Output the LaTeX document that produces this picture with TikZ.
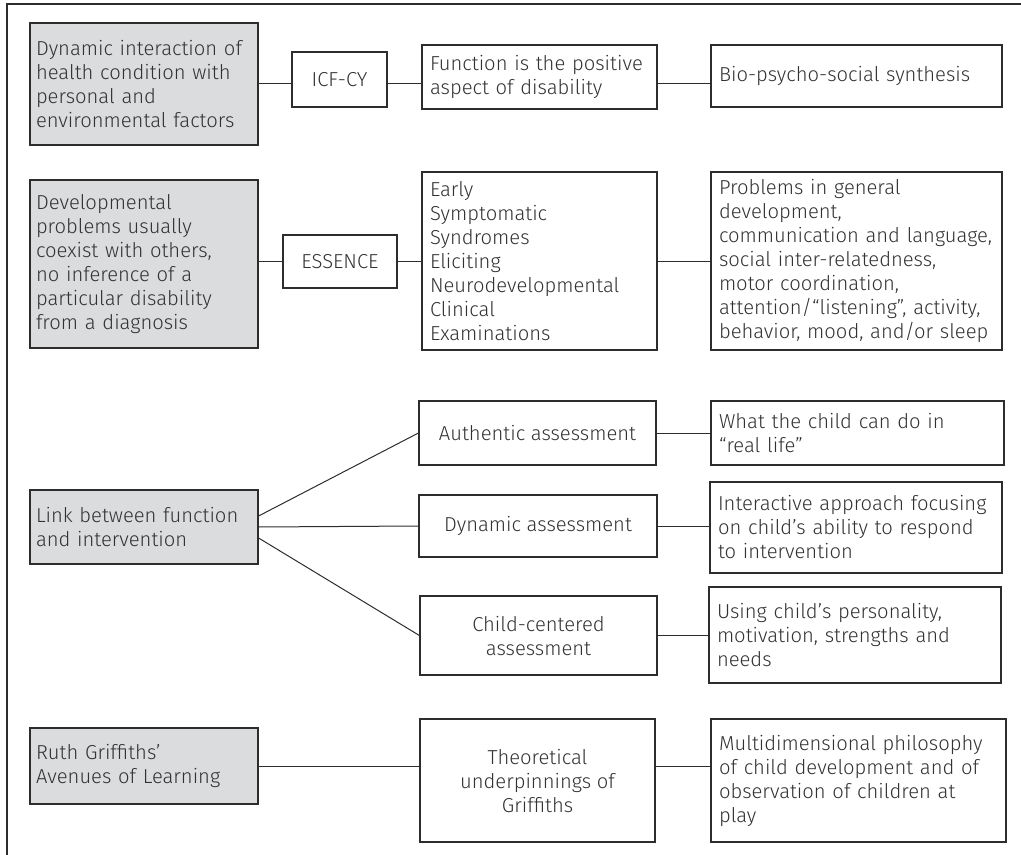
\documentclass[tikz,border=0pt]{standalone}
\usepackage{fontspec}
\setmainfont{Fira Sans Light}
\usepackage{tikz}
\definecolor{grayfill}{RGB}{219,220,222}
\definecolor{linecol}{RGB}{45,45,45}
\definecolor{txtcol}{RGB}{50,50,50}
\tikzset{
  box/.style={draw=linecol, line width=0.6pt, inner xsep=4pt, inner ysep=0pt, text=txtcol,
    font=\fontsize{10.1}{12}\selectfont},
  graybox/.style={box, fill=grayfill, inner xsep=3pt, text width=108pt, align=left},
  txtbox/.style={box, align=left},
  midbox/.style={box, align=center},
  link/.style={draw=linecol, line width=0.5pt}
}
\begin{document}
\begin{tikzpicture}[x=0.5pt,y=-0.5pt]
        \useasboundingbox (0,0) rectangle (1021,855);
        % frame
        \draw[link, line width=0.6pt] (7,855) -- (7,4) -- (1021,4);
        % ICF-CY row
        \node[graybox, minimum height=61pt] (dyn) at (144,84) {Dynamic interaction of\\health condition with\\personal and\\environmental factors};
        \node[midbox, minimum width=47.5pt, minimum height=27.5pt] (icf) at (339.5,79.5) {ICF-CY};
        \node[txtbox, text width=109.5pt, minimum height=32pt] (fnc) at (539.5,77) {Function is the positive\\aspect of disability};
        \node[txtbox, text width=137.5pt, minimum height=31pt] (bio) at (856.5,76) {Bio-psycho-social synthesis};
        \draw[link] (dyn.east) -- (icf.west |- dyn);
        \draw[link] (icf.east |- dyn) -- (fnc.west |- dyn);
        \draw[link] (fnc.east |- dyn) -- (bio.west |- dyn);
        % ESSENCE row
        \node[graybox, minimum height=84pt] (dev) at (144,264) {Developmental\\problems usually\\coexist with others,\\no inference of a\\particular disability\\from a diagnosis};
        \node[midbox, minimum width=57pt, minimum height=26.5pt] (ess) at (340,261.5) {ESSENCE};
        \node[txtbox, text width=109.5pt, minimum height=89pt] (esl) at (539.5,261) {Early\\Symptomatic\\Syndromes\\Eliciting\\Neurodevelopmental\\Clinical\\Examinations};
        \node[txtbox, text width=137.5pt, minimum height=89pt] (prb) at (856.5,261) {Problems in general\\development,\\communication and language,\\social inter-relatedness,\\motor coordination,\\attention/“listening”, activity,\\behavior, mood, and/or sleep};
        \draw[link] (dev.east |- ess) -- (ess.west);
        \draw[link] (ess.east) -- (esl.west |- ess);
        \draw[link] (esl.east |- ess) -- (prb.west |- ess);
        % assessment rows
        \node[graybox, minimum height=37pt] (lnk) at (144,527) {Link between function\\and intervention};
        \node[midbox, minimum width=118.5pt, minimum height=32pt] (aut) at (537.5,433) {Authentic assessment};
        \node[midbox, minimum width=119pt, minimum height=31pt] (dya) at (538,526) {Dynamic assessment};
        \node[midbox, minimum width=118.5pt, minimum height=39.5pt] (chc) at (538.5,635.5) {Child-centered\\assessment};
        \node[txtbox, text width=138.5pt, minimum height=32pt] (wht) at (857.5,433) {What the child can do in\\“real life”};
        \node[txtbox, text width=138pt, minimum height=45.5pt] (iap) at (856,527.5) {Interactive approach focusing\\on child’s ability to respond\\to intervention};
        \node[txtbox, text width=138pt, minimum height=48pt] (usg) at (855,635) {Using child’s personality,\\motivation, strengths and\\needs};
        \draw[link] ([yshift=5.5pt]lnk.east) -- (aut.west);
        \draw[link] (lnk.east) -- (dya.west);
        \draw[link] ([yshift=-5.5pt]lnk.east) -- (chc.west);
        \draw[link] (aut.east) -- (wht.west |- aut);
        \draw[link] (dya.east) -- (iap.west |- dya);
        \draw[link] (chc.east) -- (usg.west |- chc);
        % Griffiths row
        \node[graybox, minimum height=38pt] (rgf) at (144,766) {Ruth Griffiths’\\Avenues of Learning};
        \node[midbox, minimum width=117.5pt, minimum height=61.5pt] (thp) at (537.5,780.5) {Theoretical\\underpinnings of\\Griffiths};
        \node[txtbox, text width=139.5pt, minimum height=61.5pt] (mdp) at (858.5,780.5) {Multidimensional philosophy\\of child development and of\\observation of children at\\play};
        \draw[link] (rgf.east) -- (thp.west |- rgf);
        \draw[link] (thp.east |- rgf) -- (mdp.west |- rgf);
\end{tikzpicture}
\end{document}
